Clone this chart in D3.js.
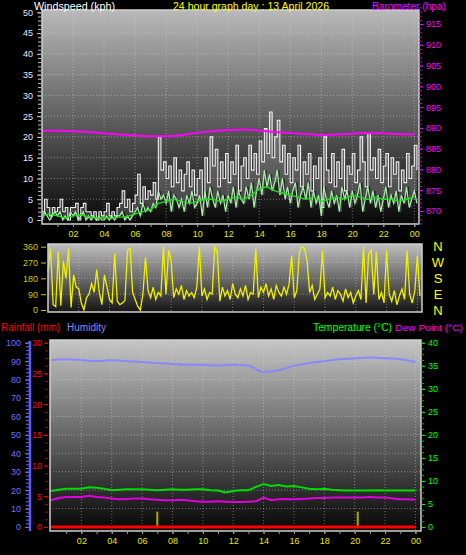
<!DOCTYPE html>
<html><head><meta charset="utf-8">
<script src="https://cdn.jsdelivr.net/npm/d3@7"></script>
<style>html,body{margin:0;padding:0;background:#000;overflow:hidden}svg{display:block}</style>
</head><body>
<script>
// ---------- DATA ----------
// 10-minute samples starting at 00:00
const windGust = [2,5,3,1,3,2, 3,5,2,3,0,3, 3,4,0,3,4,2, 2,1,2,0,2,1, 2,4,1,2,1,3,
  4,7,3,5,2,4, 6,11,4,8,5,7, 6,9,5,20,12,14, 10,13,8,15,9,12, 7,11,14,8,12,6,
  10,12,5,15,9,20, 13,17,8,14,10,16, 9,14,11,18,7,13, 15,10,18,12,16,11,
  19,14,22,16,26,15, 20,24,14,18,11,16, 9,15,12,18,8,14, 11,16,7,13,10,15,
  3,20,12,9,16,8, 14,10,17,7,13,11, 16,9,12,20,14,8, 21,12,15,10,17,9,
  13,16,8,15,11,14, 7,12,9,16,10,13, 18,12];
const windSpeed = [0,2,1,0,1,2, 1,2,0,1,0,2, 1,2,0,1,2,0, 1,0,1,0,1,0, 0,1,0,1,0,1,
  1,2,0,1,0,1, 2,3,1,4,2,3, 2,4,3,7,5,6, 4,7,2,6,5,3, 5,2,6,4,7,3,
  4,6,1,7,3,8, 5,3,7,4,6,2, 6,4,8,3,7,5, 4,8,5,9,3,7,
  10,6,12,8,11,7, 9,12,6,10,5,8, 4,7,9,3,6,8, 5,9,3,7,4,6,
  1,8,5,3,7,4, 6,2,8,5,7,3, 7,4,6,9,2,5, 8,4,7,3,6,2,
  5,8,3,6,4,7, 2,6,4,8,3,5, 7,4];
const windDir = [220,350,30,20,330,25, 280,180,350,15,200,130, 120,40,0,70,90,150,
  100,230,100,30,200,130, 60,40,320,50,30,40, 55,340,350,100,60,20,
  0,90,300,110,70,130, 60,100,80,360,90,340, 280,70,120,90,140,60,
  110,80,100,70,130,360, 80,120,60,100,90,360, 330,50,130,80,110,60,
  150,90,70,120,80,140, 60,100,90,350,70,130, 100,150,80,120,60,140,
  100,80,130,90,150,310, 70,110,330,360,350,280, 100,140,60,90,120,340,
  70,100,80,130,60,110, 90,50,120,70,100,40, 80,110,60,360,40,320,
  340,90,330,60,100,40, 340,90,50,110,30,80, 120,60,340,90,40,110, 310,80];
// 30-minute samples
const windAvg = [1,1.5,1,0.5,1,1.2,0.8, 0.5,0.6,0.4,0.7,0.8,1.5, 2,2.5,4,4.5,5,4.5,
  4,4.5,5,5,4.5,5, 5.5,5,6,7.5,8,7, 6.5,6,5.5,5,5.5,4.5, 5,5.5,5,6,5.5,5, 5.5,5,5,4.5,5,5.5];
const temperature = [7.8,8.1,8.3,8.3,8.3,8.6,8.5,8.3,8.0,8.1,8.2,8.2,8.2,8.1,8.0,8.1,8.2,8.1,
  8.1,8.2,8.2,8.0,7.9,7.5,7.8,8.0,8.0,8.7,9.3,8.9,9.1,8.8,8.9,8.6,8.3,8.2,8.3,8.1,
  8.0,7.9,7.9,7.9,7.9,8.0,7.9,7.9,7.9,7.9,7.9];
const dewPoint = [5.8,6.3,6.5,6.5,6.5,6.8,6.5,6.4,6.2,6.0,6.1,6.2,6.2,6.0,5.9,5.8,5.8,5.9,
  5.8,5.6,5.5,5.5,5.6,5.5,5.4,5.4,5.5,5.6,6.4,5.8,6.0,6.1,6.0,6.1,6.2,6.3,6.3,6.4,
  6.4,6.4,6.4,6.4,6.5,6.4,6.4,6.2,6.0,6.0,5.9];
// hourly samples
const barometer = [889.3,889.3,889.2,889.0,888.7,888.4,888.2,888.0,888.0,888.3,888.8,889.2,
  889.5,889.6,889.4,889.0,888.8,888.5,888.3,888.4,888.6,888.8,888.7,888.5,888.4];
const humidity = [90.5,91,90.5,90,90.5,90,89.5,89,88.5,88,88,87.5,88,87.5,84,85,87.5,89,
  90,91,91.5,92,91.5,91,89.5];
const rainfall = [0,0,0,0,0,0,0,0,0,0,0,0,0,0,0,0,0,0,0,0,0,0,0,0,0];
const rainRateHours = [7.0, 20.2];
const rainRate = [2.5, 2.5];

const hourTicks = [2,4,6,8,10,12,14,16,18,20,22,24];
const hourLabels = ["02","04","06","08","10","12","14","16","18","20","22","00"];
const windTicks = [0,5,10,15,20,25,30,35,40,45,50];
const baroTicks = [870,875,880,885,890,895,900,905,910,915];
const dirTicks = [0,90,180,270,360];
const compass = ["N","E","S","W","N"];
const humTicks = [0,10,20,30,40,50,60,70,80,90,100];
const rainTicks = [0,5,10,15,20,25,30];
const tempTicks = [0,5,10,15,20,25,30,35,40];

// ---------- DRAW ----------
const FONT = "'Liberation Sans', Arial, sans-serif";
const svg = d3.select("body").append("svg").attr("width",466).attr("height",555)
  .style("background","#000").style("font-family",FONT);
const defs = svg.append("defs");
function grad(id,c0,c1){
  const g = defs.append("linearGradient").attr("id",id).attr("x1",0).attr("y1",0).attr("x2",0).attr("y2",1);
  g.append("stop").attr("offset","0%").attr("stop-color",c0);
  g.append("stop").attr("offset","100%").attr("stop-color",c1);
}
grad("gTop","#b9b9b9","#080808");
grad("gDir","#c0c0c0","#151515");
grad("gBot","#c6c6c6","#050505");

const t10 = i => i/6, t30 = i => i/2, t60 = i => i;

const xTop = d3.scaleLinear([0,24.3],[42,419]);
const xDir = d3.scaleLinear([0,24.3],[48,422]);
const xBot = d3.scaleLinear([0,24.3],[51,420]);
const yWind = d3.scaleLinear([0,50],[220,12.3]);
const yBaro = d3.scaleLinear([870,915],[211,24]);
const yDir = d3.scaleLinear([0,360],[310,246.7]);
const yHum = d3.scaleLinear([0,100],[527,342.7]);
const yRain = d3.scaleLinear([0,30],[527,342.7]);
const yTemp = d3.scaleLinear([0,40],[527,342.7]);

function panel(x0,y0,x1,y1,g){
  svg.append("rect").attr("x",x0).attr("y",y0).attr("width",x1-x0).attr("height",y1-y0)
    .attr("fill",`url(#${g})`);
}
function frame(x0,y0,x1,y1){
  svg.append("rect").attr("x",x0).attr("y",y0).attr("width",x1-x0).attr("height",y1-y0)
    .attr("fill","none").attr("stroke","#cfcfcf").attr("stroke-width",1.5);
}
function grid(xs,ys,hv,vv,x0,y0,x1,y1){
  const g = svg.append("g").attr("stroke","#dcdcdc").attr("stroke-opacity",0.45)
    .attr("stroke-dasharray","1,2").attr("stroke-width",1);
  hv.forEach(v=>g.append("line").attr("x1",x0).attr("x2",x1).attr("y1",ys(v)).attr("y2",ys(v)));
  vv.forEach(v=>g.append("line").attr("y1",y0).attr("y2",y1).attr("x1",xs(v)).attr("x2",xs(v)));
}
function styleAxis(g,color,fs){
  g.select(".domain").remove();
  g.selectAll("line").attr("stroke",color);
  g.selectAll("text").attr("fill",color).style("font-size",fs+"px").style("font-family",FONT);
}

// --- Top panel
panel(42,10,419,224,"gTop");
grid(xTop,yWind,[5,10,15,20,25,30,35,40,45],hourTicks,42,10,419,224);
const areaWS = d3.area().x((d,i)=>xTop(t10(i))).y0((d,i)=>yWind(windSpeed[i])).y1(d=>yWind(d)).curve(d3.curveStepAfter);
svg.append("path").datum(windGust).attr("d",areaWS).attr("fill","#ffffff").attr("fill-opacity",0.2);
svg.append("path").datum(windGust).attr("fill","none").attr("stroke","#eeeeee").attr("stroke-width",1.1)
  .attr("d",d3.line().x((d,i)=>xTop(t10(i))).y(d=>yWind(d)).curve(d3.curveStepAfter));
svg.append("path").datum(windSpeed).attr("fill","none").attr("stroke","#a8f0a8").attr("stroke-width",1.2)
  .attr("d",d3.line().x((d,i)=>xTop(t10(i))).y(d=>yWind(d)));
svg.append("path").datum(windAvg).attr("fill","none").attr("stroke","#22dd22").attr("stroke-width",1.4)
  .attr("d",d3.line().x((d,i)=>xTop(t30(i))).y(d=>yWind(d)));
svg.append("path").datum(barometer).attr("fill","none").attr("stroke","#ff00ff").attr("stroke-width",2)
  .attr("d",d3.line().x((d,i)=>xTop(t60(i))).y(d=>yBaro(d)).curve(d3.curveMonotoneX));
frame(42,10,419,224);

let a;
a = svg.append("g").attr("transform","translate(41,0)")
  .call(d3.axisLeft(yWind).tickValues(d3.range(0,51,1)).tickSize(3).tickFormat(""));
styleAxis(a,"#bfbfbf",9);
a = svg.append("g").attr("transform","translate(41,0)")
  .call(d3.axisLeft(yWind).tickValues(windTicks).tickSize(4).tickPadding(4));
styleAxis(a,"#e4ecff",9);
a.selectAll("line").attr("stroke","#bfbfbf");

a = svg.append("g").attr("transform","translate(419,0)")
  .call(d3.axisRight(yBaro).tickValues(d3.range(867,920,1)).tickSize(3).tickFormat(""));
styleAxis(a,"#d000d0",9);
a = svg.append("g").attr("transform","translate(419,0)")
  .call(d3.axisRight(yBaro).tickValues(baroTicks).tickSize(4).tickPadding(3));
styleAxis(a,"#ff00ff",9);

a = svg.append("g").attr("transform","translate(0,224)")
  .call(d3.axisBottom(xTop).tickValues(d3.range(1,25,1)).tickSize(3).tickFormat(""));
styleAxis(a,"#9a9a9a",9);
a = svg.append("g").attr("transform","translate(0,224)")
  .call(d3.axisBottom(xTop).tickValues(hourTicks).tickSize(3).tickPadding(4).tickFormat((d,i)=>hourLabels[i]));
styleAxis(a,"#e8e800",9);
a.selectAll("line").attr("stroke","#9a9a9a");

// --- Direction panel
panel(48,244,422,312,"gDir");
grid(xDir,yDir,[90,180,270],hourTicks,48,244,422,312);
svg.append("path").datum(windDir).attr("fill","none").attr("stroke","#f0f000").attr("stroke-width",1.3)
  .attr("d",d3.line().x((d,i)=>xDir(t10(i))).y(d=>yDir(d)));
frame(48,244,422,312);
a = svg.append("g").attr("transform","translate(46,0)")
  .call(d3.axisLeft(yDir).tickValues(dirTicks).tickSize(5).tickPadding(3));
styleAxis(a,"#c8c800",9);
svg.append("g").selectAll("text").data(dirTicks).join("text")
  .attr("x",438).attr("y",d=>yDir(d)).attr("dy","0.36em").attr("text-anchor","middle")
  .attr("fill","#ffff00").style("font-size","13px").text((d,i)=>compass[i]);

// --- Bottom panel
panel(50,340,421,531,"gBot");
grid(xBot,yHum,[10,20,30,40,50,60,70,80,90],hourTicks,50,340,421,531);
svg.append("path").datum(humidity).attr("fill","none").attr("stroke","#8888ff").attr("stroke-width",2)
  .attr("d",d3.line().x((d,i)=>xBot(t60(i))).y(d=>yHum(d)).curve(d3.curveMonotoneX));
svg.append("path").datum(temperature).attr("fill","none").attr("stroke","#00dd00").attr("stroke-width",2)
  .attr("d",d3.line().x((d,i)=>xBot(t30(i))).y(d=>yTemp(d)));
svg.append("path").datum(dewPoint).attr("fill","none").attr("stroke","#e000e0").attr("stroke-width",2)
  .attr("d",d3.line().x((d,i)=>xBot(t30(i))).y(d=>yTemp(d)));
svg.append("g").selectAll("line").data(rainRate).join("line")
  .attr("x1",(d,i)=>xBot(rainRateHours[i])).attr("x2",(d,i)=>xBot(rainRateHours[i]))
  .attr("y1",yRain(0)).attr("y2",d=>yRain(d)).attr("stroke","#b0a800").attr("stroke-width",2);
svg.append("path").datum(rainfall).attr("fill","none").attr("stroke","#ff0000").attr("stroke-width",3)
  .attr("d",d3.line().x((d,i)=>xBot(t60(i))).y(d=>yRain(d)));
frame(50,340,421,531);

// humidity axis
svg.append("line").attr("x1",30).attr("x2",30).attr("y1",341).attr("y2",531)
  .attr("stroke","#5a5aff").attr("stroke-width",2.5);
a = svg.append("g").attr("transform","translate(29,0)")
  .call(d3.axisLeft(yHum).tickValues(d3.range(0,101,2)).tickSize(3).tickFormat(""));
styleAxis(a,"#6a6aff",9);
a = svg.append("g").attr("transform","translate(29,0)")
  .call(d3.axisLeft(yHum).tickValues(humTicks).tickSize(4).tickPadding(4));
styleAxis(a,"#7070ff",9);
// rain axis
a = svg.append("g").attr("transform","translate(48,0)")
  .call(d3.axisLeft(yRain).tickValues(d3.range(0,30.1,1.25)).tickSize(3).tickFormat(""));
styleAxis(a,"#c00000",9);
a = svg.append("g").attr("transform","translate(48,0)")
  .call(d3.axisLeft(yRain).tickValues(rainTicks).tickSize(4).tickPadding(2));
styleAxis(a,"#ff0000",9);
// temperature axis
a = svg.append("g").attr("transform","translate(421,0)")
  .call(d3.axisRight(yTemp).tickValues(d3.range(0,40.1,1.25)).tickSize(3).tickFormat(""));
styleAxis(a,"#00c000",9);
a = svg.append("g").attr("transform","translate(421,0)")
  .call(d3.axisRight(yTemp).tickValues(tempTicks).tickSize(4).tickPadding(3));
styleAxis(a,"#00ff00",9);
// bottom x axis
a = svg.append("g").attr("transform","translate(0,531)")
  .call(d3.axisBottom(xBot).tickValues(d3.range(1,25,1)).tickSize(3).tickFormat(""));
styleAxis(a,"#9a9a9a",9);
a = svg.append("g").attr("transform","translate(0,531)")
  .call(d3.axisBottom(xBot).tickValues(hourTicks).tickSize(3).tickPadding(4).tickFormat((d,i)=>hourLabels[i]));
styleAxis(a,"#e8e800",9);
a.selectAll("line").attr("stroke","#9a9a9a");

// --- Titles
function label(x,y,txt,color,len,fs){
  svg.append("text").attr("x",x).attr("y",y).attr("fill",color)
    .attr("textLength",len).attr("lengthAdjust","spacingAndGlyphs")
    .style("font-size",(fs||11)+"px").text(txt);
}
label(34,10,"Windspeed (kph)","#ffffff",81,11);
label(173,10,"24 hour graph day : 13 April 2026","#ffff00",156,10.5);
label(372,10,"Barometer (hpa)","#ff00ff",74,10);
label(1,331,"Rainfall (mm)","#ff0000",59,10);
label(67,331,"Humidity","#8888ff",39,10);
label(313,331,"Temperature (°C)","#00ff00",79,10);
label(395,331,"Dew Point (°C)","#ff00ff",68,9.5);
</script>
</body></html>
